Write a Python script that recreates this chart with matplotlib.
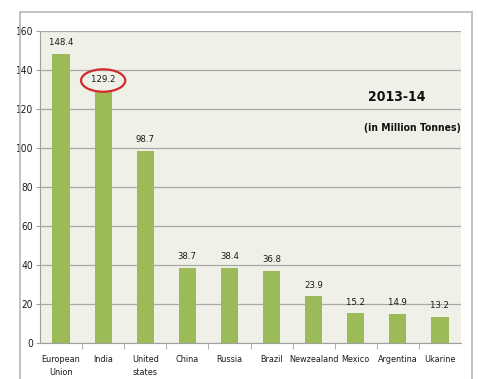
import matplotlib
matplotlib.use("Agg")
import matplotlib.pyplot as plt
from matplotlib.patches import Ellipse, Rectangle

plt.rcParams['font.family'] = ['DejaVu Sans']
plt.rcParams['font.stretch'] = 'condensed'

countries = ["European\nUnion", "India", "United\nstates", "China", "Russia",
             "Brazil", "Newzealand", "Mexico", "Argentina", "Ukarine"]
production = [148.4, 129.2, 98.7, 38.7, 38.4, 36.8, 23.9, 15.2, 14.9, 13.2]
yticks = [0, 20, 40, 60, 80, 100, 120, 140, 160]

fig = plt.figure(figsize=(4.78, 3.79), dpi=100)

# outer chart frame
fig.patches.append(Rectangle((20 / 478, -0.05), 452 / 478, 1.05 - 12 / 379,
                             transform=fig.transFigure, fill=False,
                             edgecolor="#b8b8b8", linewidth=1.2))

ax = fig.add_axes([40 / 478, 1 - 343 / 379, 421 / 478, 312 / 379])
ax.set_facecolor("#eff1e8")

x = range(len(countries))
bars = ax.bar(x, production, width=0.41, color="#9bbb59", zorder=3)
for i, v in enumerate(production):
    ax.text(i, v + 3.5, f"{v:.1f}", ha="center", va="bottom", fontsize=6.8,
            color="#1a1a1a", zorder=4)

# highlight India's value
ax.add_patch(Ellipse((1, 134.6), 1.05, 11.5, fill=False, edgecolor="#d42a2a",
                     linewidth=1.6, zorder=5))

ax.set_xlim(-0.5, len(countries) - 0.5)
ax.set_ylim(0, 160)
ax.set_yticks(yticks)
ax.set_xticks(list(x))
ax.set_xticklabels(countries, fontsize=6.5, color="#1a1a1a", linespacing=1.5)
ax.set_xticks([i + 0.5 for i in range(len(countries) - 1)], minor=True)
ax.tick_params(axis="x", which="major", length=0, pad=9)
ax.tick_params(axis="x", which="minor", length=4, color="#a0a0a0", direction="out")
ax.tick_params(axis="y", length=3, color="#a0a0a0", labelsize=7.3,
               labelcolor="#1a1a1a", pad=2)
ax.grid(axis="y", color="#a8a8a8", linewidth=0.9, zorder=0)

for side in ["top", "right"]:
    ax.spines[side].set_visible(False)
for side in ["left", "bottom"]:
    ax.spines[side].set_color("#a0a0a0")

ax.text(0.848, 0.788, "2013-14", transform=ax.transAxes, ha="center",
        va="center", fontsize=10, fontweight="bold", color="#111111")
ax.text(0.884, 0.689, "(in Million Tonnes)", transform=ax.transAxes,
        ha="center", va="center", fontsize=7.5, fontweight="bold",
        color="#111111")

fig.savefig("out.png", dpi=100)
